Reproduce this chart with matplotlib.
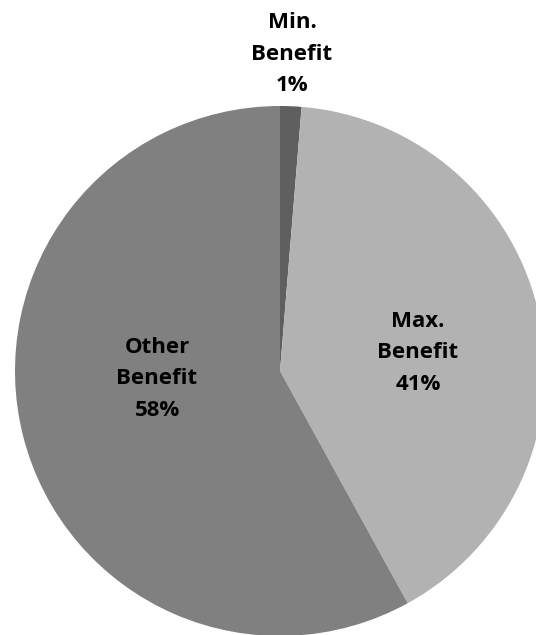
import matplotlib
matplotlib.use('Agg')
import matplotlib.pyplot as plt

# slice data, clockwise from 12 o'clock
labels = ['Min.\nBenefit', 'Max.\nBenefit', 'Other\nBenefit']
shares = [1.3, 40.7, 58.0]
colors = ['#5f5f5f', '#b2b2b2', '#808080']

W, H = 536, 635
cx, cy, R = 280, 371, 265  # pie centre / radius in pixels


def to_data(px, py):
    return (px - cx) / R, (cy - py) / R


fig = plt.figure(figsize=(W / 100, H / 100), dpi=100)
ax = fig.add_axes([0, 0, 1, 1])
ax.pie(shares, colors=colors, startangle=90, counterclock=False,
       radius=1, center=(0, 0), frame=False)
ax.set_xlim(-cx / R, (W - cx) / R)
ax.set_ylim(-(H - cy) / R, cy / R)
ax.set_aspect('auto')
ax.axis('off')

# label centres in pixels
label_px = [(292, 54), (418, 353), (157, 379)]
for lab, val, (px, py) in zip(labels, shares, label_px):
    x, y = to_data(px, py)
    ax.text(x, y, f'{lab}\n{val:.0f}%', ha='center', va='center',
            fontsize=16, fontweight='bold', family='Open Sans',
            linespacing=1.65, color='black')

fig.savefig('out.png', dpi=100)
